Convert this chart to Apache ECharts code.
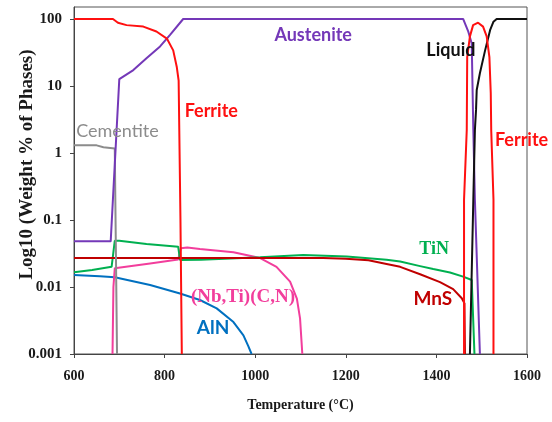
<!DOCTYPE html>
<html>
<head>
<meta charset="utf-8">
<script src="https://cdn.jsdelivr.net/npm/echarts@6/dist/echarts.min.js"></script>
<style>
  html, body { margin: 0; padding: 0; background: #fff; }
  #chart { width: 552px; height: 422px; }
</style>
</head>
<body>
<div id="chart"></div>
<script>
// Equilibrium phase fractions (weight %) against temperature (°C), log scale.
// Each array is a list of [temperature, weight %] pairs.
const ferriteLow = [[600,100],[686,100],[697,88],[716,81],[753,77],[782,65],[805,51],[819,34],[827,19],[831,12],[835,0.1],[838,0.001]];
const ferriteHigh = [[1461,0.001],[1461,0.2],[1467,2.2],[1468,27],[1474,55],[1481,81],[1492,88],[1503,77],[1511,55],[1517,27],[1520,7.8],[1521,2.2],[1526,0.2],[1526,0.001]];
const austenite = [[600,0.048],[681,0.048],[700,12.7],[731,17.3],[760,26],[790,39],[812,58],[841,100],[1459,100],[1470,66],[1478,43],[1481.5,2.2],[1485,0.2],[1496,0.001]];
const liquid = [[1474,0.001],[1481.5,0.2],[1485,2.2],[1487.5,4.4],[1489,8.7],[1496,15.5],[1507.5,34],[1518.5,68],[1526,91],[1533,100],[1600,100]];
const cementite = [[600,1.3],[650,1.3],[665,1.22],[690,1.17],[695,0.001]];
const tin = [[600,0.0166],[640,0.018],[683,0.02],[690,0.049],[700,0.049],[760,0.044],[830,0.040],[834,0.0253],[880,0.0255],[1011,0.0277],[1106,0.030],[1202,0.0285],[1290,0.0255],[1320,0.024],[1364,0.0205],[1393,0.0185],[1430,0.0165],[1459,0.0143],[1478,0.0127],[1484,0.001]];
const mns = [[600,0.027],[1150,0.027],[1200,0.0265],[1250,0.025],[1290,0.022],[1320,0.020],[1364,0.0155],[1408,0.0118],[1437,0.0093],[1456,0.0068],[1462,0.0057],[1463,0.001]];
const nbTiCN = [[685,0.001],[687,0.01],[690,0.019],[768,0.0225],[830,0.0257],[836,0.038],[850,0.039],[878,0.037],[952,0.033],[1011,0.027],[1047,0.020],[1077,0.012],[1092,0.0067],[1099,0.0034],[1104,0.001]];
const aln = [[600,0.0151],[657,0.0145],[690,0.014],[768,0.0107],[834,0.008],[878,0.0064],[915,0.0048],[952,0.003],[974,0.0019],[985,0.0013],[992,0.001]];

const yTickLabels = ['0.001', '0.01', '0.1', '1', '10', '100'];

const SERIF = '"Liberation Serif", "Times New Roman", serif';
const SANS = 'Lato, "Liberation Sans", sans-serif';

// Phase curves, drawing order, colours and their in-plot captions
const phases = [
  { name: 'AlN', data: aln, color: '#0070C0',
    captions: [{ text: 'AlN', at: [907, 0.00244], font: SANS, size: 19, weight: 'bold' }] },
  { name: '(Nb,Ti)(C,N)', data: nbTiCN, color: '#F23E9C',
    captions: [{ text: '(Nb,Ti)(C,N)', at: [973, 0.0071], font: SERIF, size: 19, weight: 'bold' }] },
  { name: 'TiN', data: tin, color: '#00B050',
    captions: [{ text: 'TiN', at: [1395, 0.0369], font: SERIF, size: 18, weight: 'bold' }] },
  { name: 'MnS', data: mns, color: '#C00000',
    captions: [{ text: 'MnS', at: [1392, 0.0066], font: SANS, size: 19, weight: 'bold' }] },
  { name: 'Cementite', data: cementite, color: '#8C8C8C',
    captions: [{ text: 'Cementite', at: [696, 2.13], font: SANS, size: 18, weight: 'normal' }] },
  { name: 'Austenite', data: austenite, color: '#7438B8',
    captions: [{ text: 'Austenite', at: [1128, 57.7], font: SANS, size: 18, weight: 'bold' }] },
  { name: 'Liquid', data: liquid, color: '#111111',
    captions: [{ text: 'Liquid', at: [1432, 34.4], font: SANS, size: 18, weight: 'bold' }] },
  { name: 'Ferrite', data: ferriteLow, color: '#FF1010',
    captions: [{ text: 'Ferrite', at: [903, 4.24], font: SANS, size: 18, weight: 'bold' }] },
  { name: 'Ferrite (δ)', data: ferriteHigh, color: '#FF1010',
    captions: [{ text: 'Ferrite', at: [1588, 1.56], font: SANS, size: 18, weight: 'bold' }] }
];

const series = phases.map(p => ({
  name: p.name,
  type: 'line',
  data: p.data,
  showSymbol: false,
  symbol: 'none',
  lineStyle: { color: p.color, width: 2 },
  itemStyle: { color: p.color },
  markPoint: {
    symbol: 'circle',
    symbolSize: 1,
    silent: true,
    itemStyle: { color: 'rgba(0,0,0,0)' },
    data: p.captions.map(c => ({
      coord: c.at,
      name: c.text,
      label: {
        show: true,
        position: 'inside',
        formatter: c.text,
        color: p.color,
        fontFamily: c.font,
        fontSize: c.size,
        fontWeight: c.weight
      }
    }))
  }
}));

const axisColor = '#444';
const tickFont = { fontFamily: SERIF, fontWeight: 'bold', color: '#1a1a1a' };

const chart = echarts.init(document.getElementById('chart'), null, { renderer: 'canvas' });
chart.setOption({
  animation: false,
  backgroundColor: '#ffffff',
  grid: {
    left: 74, right: 25, top: 7, bottom: 68,
    containLabel: false,
    outerBoundsMode: 'none',
    show: true, borderColor: '#555', borderWidth: 1
  },
  xAxis: {
    type: 'value',
    min: 600, max: 1600, interval: 200,
    axisLine: { show: true, lineStyle: { color: axisColor, width: 1 } },
    axisTick: { show: true, length: 4, lineStyle: { color: axisColor } },
    splitLine: { show: false },
    axisLabel: Object.assign({ margin: 15, fontSize: 14, formatter: v => String(v) }, tickFont),
    name: 'Temperature (°C)',
    nameLocation: 'middle',
    nameGap: 44,
    nameMoveOverlap: false,
    nameTextStyle: Object.assign({ fontSize: 14 }, tickFont)
  },
  yAxis: {
    type: 'log',
    logBase: 10,
    min: 0.001,
    max: 151,
    axisLine: { show: true, lineStyle: { color: axisColor, width: 1 } },
    axisTick: { show: true, length: 4, lineStyle: { color: axisColor } },
    minorTick: { show: false },
    splitLine: { show: false },
    axisLabel: Object.assign({
      margin: 12,
      fontSize: 15,
      showMaxLabel: false,
      formatter: v => {
        const e = Math.log10(v);
        const k = Math.round(e);
        if (Math.abs(e - k) > 1e-6) return '';
        return yTickLabels[k + 3] || '';
      }
    }, tickFont),
    name: 'Log10 (Weight % of Phases)',
    nameLocation: 'middle',
    nameGap: 37,
    nameMoveOverlap: false,
    nameTextStyle: Object.assign({ fontSize: 19, padding: [0, 0, 0, 32] }, tickFont)
  },
  series: series
});
</script>
</body>
</html>
